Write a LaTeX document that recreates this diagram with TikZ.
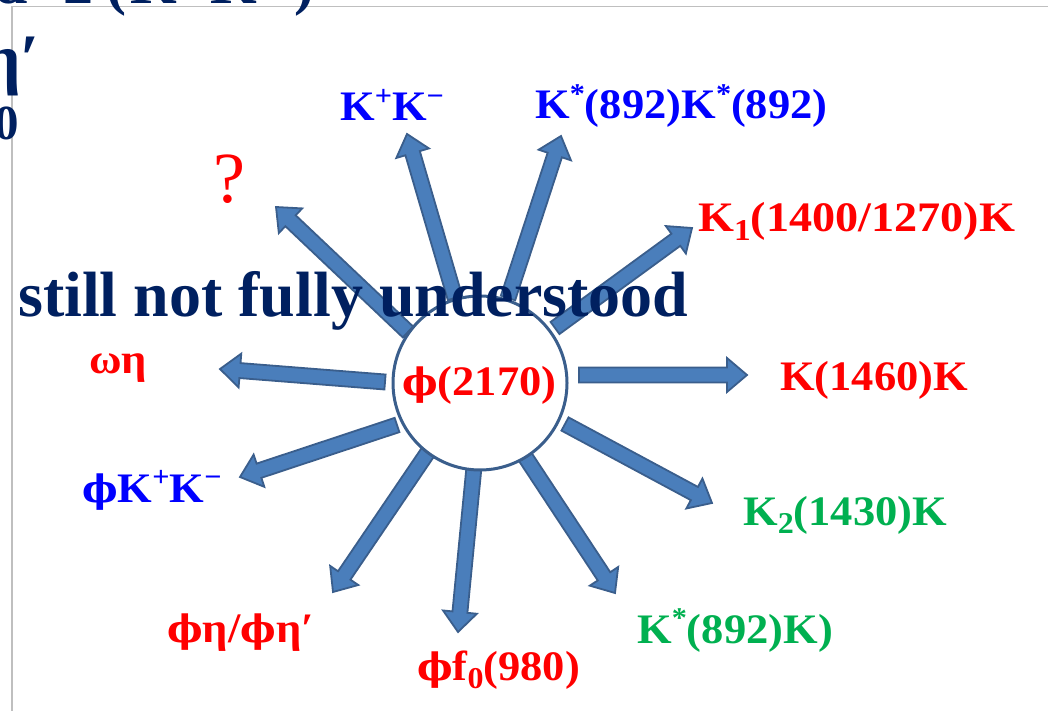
\documentclass[tikz,border=0pt]{standalone}
\usepackage{fontspec}
\setmainfont{Liberation Serif}
\newfontfamily\lab[FakeStretch=1.06]{Liberation Serif}
\newfontfamily\labw[FakeStretch=1.1]{Liberation Serif}
\newfontfamily\phifont[Scale=0.9]{DejaVu Serif}
\usetikzlibrary{calc}
\definecolor{navy}{HTML}{002060}
\definecolor{lred}{HTML}{FF0000}
\definecolor{lblue}{HTML}{0000FF}
\definecolor{lgreen}{HTML}{00B050}
\definecolor{afill}{HTML}{4A7EBB}
\definecolor{aline}{HTML}{3A5E8C}
\definecolor{framegrey}{HTML}{BFBFBF}
\newcommand\hi[1]{\raisebox{0.36em}{\scalebox{0.68}{#1}}}
\newcommand\lo[1]{\raisebox{-0.2em}{\scalebox{0.72}{#1}}}
\newcommand\ph{{\phifont ϕ}}
\newcommand\blockarr[2]{%
  \coordinate (hd) at ($(#2)!20pt!(#1)$);
  \draw[barrow] ($(#1)!7.5pt!90:(#2)$) -- ($(hd)!7.5pt!-90:(#1)$) -- ($(hd)!17pt!-90:(#1)$) -- (#2)
    -- ($(hd)!17pt!90:(#1)$) -- ($(hd)!7.5pt!90:(#1)$) -- ($(#1)!7.5pt!-90:(#2)$) -- cycle;}
\begin{document}
\begin{tikzpicture}[x=1pt,y=-1pt,
  barrow/.style={fill=afill, draw=aline, line width=1.8pt, line join=miter},
  lbl/.style={anchor=base west, inner sep=0pt, font=\lab\bfseries\fontsize{42}{48}\selectfont},
  lblw/.style={anchor=base west, inner sep=0pt, font=\labw\bfseries\fontsize{42}{48}\selectfont},
  navtxt/.style={anchor=base west, inner sep=0pt, text=navy, font=\bfseries\fontsize{60}{70}\selectfont}]
\useasboundingbox (0,0) rectangle (1048,711);
% slide frame
\draw[framegrey, line width=1.4pt] (12,711) -- (12,6.5) -- (1048,6.5);
% tails and tips
\coordinate (t1) at (408,332);  \coordinate (p1) at (276,207);
\coordinate (t2) at (455,298);  \coordinate (p2) at (407,134);
\coordinate (t3) at (508,298);  \coordinate (p3) at (561,136);
\coordinate (t4) at (555,328);  \coordinate (p4) at (692,228);
\coordinate (t5) at (579,375);  \coordinate (p5) at (747,375);
\coordinate (t6) at (565,424);  \coordinate (p6) at (712,503);
\coordinate (t7) at (522,452);  \coordinate (p7) at (615,593);
\coordinate (t8) at (474,467);  \coordinate (p8) at (458,632);
\coordinate (t9) at (428,452);  \coordinate (p9) at (333,592);
\coordinate (t10) at (397,425); \coordinate (p10) at (240,477);
\coordinate (t11) at (385,382); \coordinate (p11) at (220,369);
\blockarr{t1}{p1}
\blockarr{t2}{p2}
\blockarr{t3}{p3}
\blockarr{t4}{p4}
\blockarr{t5}{p5}
\blockarr{t6}{p6}
\blockarr{t7}{p7}
\blockarr{t8}{p8}
\blockarr{t9}{p9}
\blockarr{t10}{p10}
\blockarr{t11}{p11}
% centre
\node[circle, draw=aline, line width=3pt, fill=white, minimum size=174pt, inner sep=0pt] (c) at (480,383) {};
\node[lbl, text=lred] (ct) at (402,395) {\ph(2170)};
% labels
\node[lbl, text=lblue] (l2) at (340,121) {K\hi{+}K\hi{−}};
\node[lbl, text=lblue] (l3) at (535,119) {K\hi{*}(892)K\hi{*}(892)};
\node[lblw, text=lred] (l4) at (698,232) {K\lo{1}(1400/1270)K};
\node[lbl, text=lred] (l5) at (780,390) {K(1460)K};
\node[lbl, text=lgreen] (l6) at (743,525) {K\lo{2}(1430)K};
\node[lbl, text=lgreen] (l7) at (637,643) {K\hi{*}(892)K)};
\node[lbl, text=lred] (l8) at (417,680) {\ph f\lo{0}(980)};
\node[lbl, text=lred] (l9) at (167,642) {\ph η/\ph η′};
\node[lbl, text=lblue] (l10) at (82,502) {\ph K\hi{+}K\hi{−}};
\node[lbl, text=lred] (l11) at (89,373) {ωη};
\node[anchor=base west, inner sep=0pt, text=lred, font=\fontsize{72}{80}\selectfont] (l1) at (213,203) {?};
% overlaid slide text
\node[anchor=base west, inner sep=0pt, text=navy, font=\bfseries\fontsize{64}{72}\selectfont] (s) at (18,316) {still not fully understood};
\node[navtxt] (a1) at (-6,4) {d};
\node[navtxt] (a2) at (63,4) {2};
\node[navtxt] (a3) at (106,4) {(};
\node[navtxt] (a4) at (130,4) {K};
\node[navtxt] (a5) at (210,4) {K};
\node[navtxt] (a6) at (294,4) {)};
\node[anchor=base east, inner sep=0pt, text=navy, font=\bfseries\fontsize{68}{76}\selectfont] (a7) at (40,82) {η′};
\node[anchor=base east, inner sep=0pt, text=navy, font=\bfseries\fontsize{49}{56}\selectfont] (a8) at (19,140) {0};
\end{tikzpicture}
\end{document}
